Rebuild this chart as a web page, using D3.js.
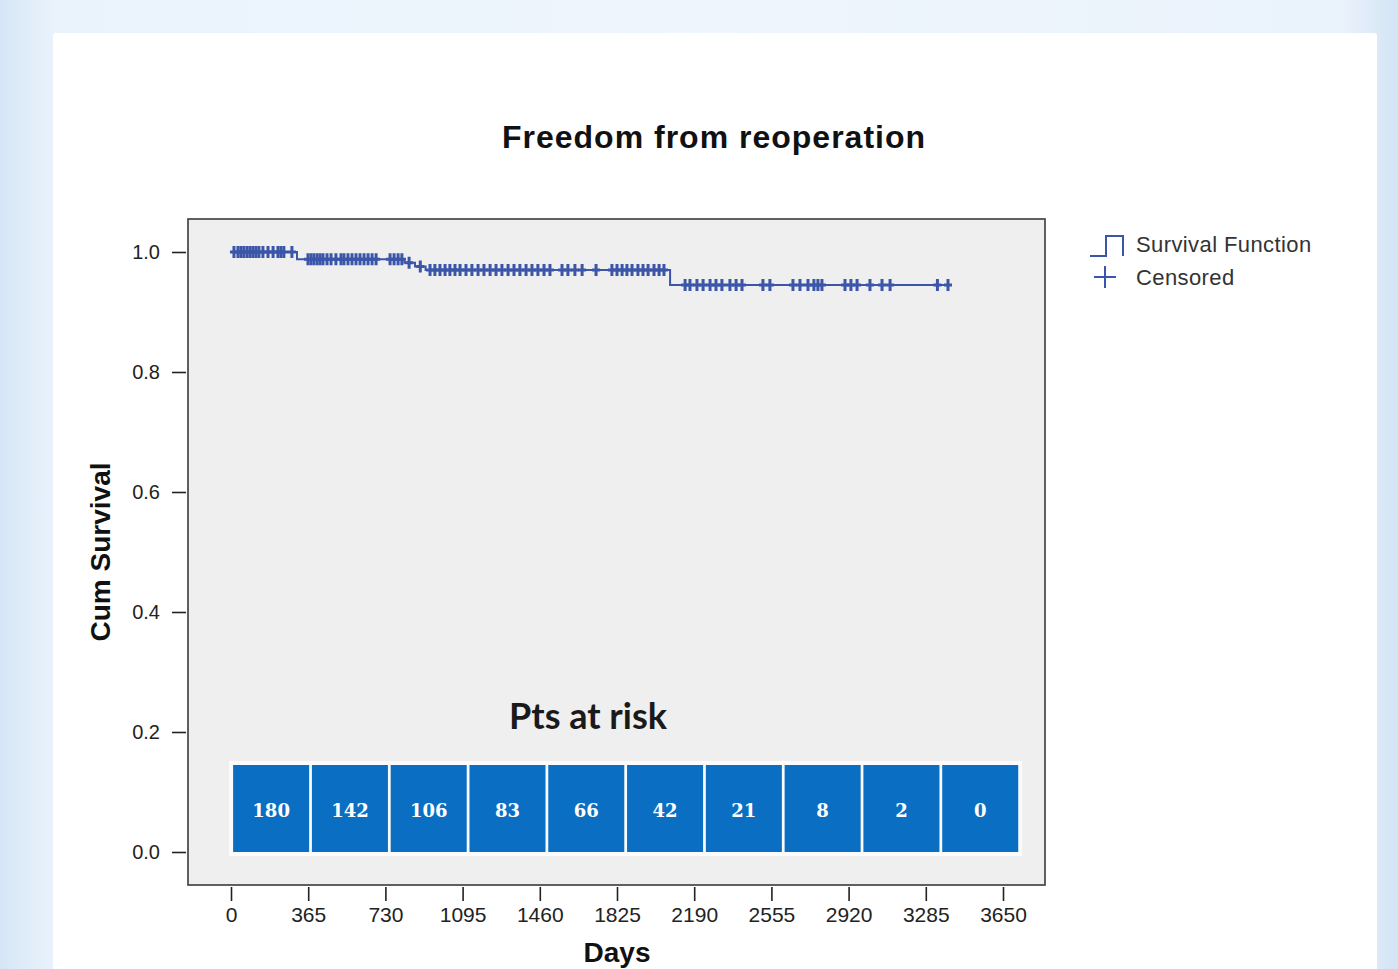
<!DOCTYPE html>
<html>
<head>
<meta charset="utf-8">
<script src="https://cdn.jsdelivr.net/npm/d3@7"></script>
<style>
  html, body { margin: 0; padding: 0; }
  body { width: 1398px; height: 969px; overflow: hidden;
    background: linear-gradient(90deg, #d6e6f6 0%, #eaf3fc 4%, #eef5fc 50%, #eaf2fb 96%, #d3e4f5 100%); }
  svg { display: block; }
</style>
</head>
<body>
<svg id="chart" width="1398" height="969"></svg>
<script>
// ---------------- data ----------------
const titleText = "Freedom from reoperation";
const xLabel = "Days";
const yLabel = "Cum Survival";
const xTicks = [0, 365, 730, 1095, 1460, 1825, 2190, 2555, 2920, 3285, 3650];
const yTicks = [0.0, 0.2, 0.4, 0.6, 0.8, 1.0];

// Kaplan-Meier step function (time of drop, survival after drop)
const stepTimes = [0, 312, 820, 870, 920, 2076];
const stepSurv  = [1.0, 0.988, 0.982, 0.976, 0.970, 0.945];
const lastTime = 3395;

// censored observation times (days)
const censoredTimes = [
  14, 33, 47, 61, 76, 90, 104, 118, 132, 151, 175, 199, 222, 236, 250, 288,
  364, 378, 392, 407, 421, 435, 454, 473, 496, 520, 534, 553, 572, 591, 610, 629, 648, 667, 686,
  752, 771, 790, 808, 842, 895,
  941, 964, 988, 1012, 1035, 1059, 1083, 1111, 1139, 1168, 1196, 1225, 1253, 1281, 1310, 1338,
  1366, 1395, 1423, 1451, 1480, 1508, 1565, 1593, 1626, 1660, 1726,
  1801, 1825, 1849, 1872, 1896, 1924, 1948, 1972, 2000, 2024, 2047,
  2147, 2170, 2203, 2232, 2265, 2293, 2321, 2359, 2388, 2416, 2515, 2548,
  2657, 2690, 2728, 2756, 2775, 2794, 2903, 2931, 2960, 3021, 3078, 3116, 3340, 3390
];

const riskTitle = "Pts at risk";
const atRisk = [180, 142, 106, 83, 66, 42, 21, 8, 2, 0];

const legendItems = ["Survival Function", "Censored"];

// ---------------- drawing ----------------
const svg = d3.select("#chart");
const lineColor = "#3b55a8";
const boxColor = "#0a6fc2";

// white panel
svg.append("rect").attr("x", 53).attr("y", 33).attr("width", 1324).attr("height", 960)
  .attr("fill", "#ffffff").attr("rx", 3);

const x = d3.scaleLinear().domain([0, 3650]).range([231, 1003]);
const y = d3.scaleLinear().domain([0, 1]).range([852, 252]);

// plot frame
const frame = { x0: 188, x1: 1045, y0: 219, y1: 885 };
svg.append("rect").attr("x", frame.x0).attr("y", frame.y0)
  .attr("width", frame.x1 - frame.x0).attr("height", frame.y1 - frame.y0)
  .attr("fill", "#efefef").attr("stroke", "#3a3a3a").attr("stroke-width", 1.6);

// title
svg.append("text").attr("x", 714).attr("y", 148).attr("text-anchor", "middle")
  .attr("font-family", "Liberation Sans, Arial, sans-serif").attr("font-weight", "bold")
  .attr("font-size", 32).attr("letter-spacing", 1).attr("fill", "#111").text(titleText);

// x axis
const xAxis = svg.append("g").attr("transform", `translate(0,${frame.y1 + 2})`)
  .call(d3.axisBottom(x).tickValues(xTicks).tickSize(14).tickSizeOuter(0).tickPadding(6).tickFormat(d3.format("d")));
xAxis.select(".domain").remove();
xAxis.selectAll("line").attr("stroke", "#222").attr("stroke-width", 1.6);
xAxis.selectAll("text").attr("font-family", "Liberation Sans, Arial, sans-serif")
  .attr("font-size", 21).attr("fill", "#222");

// y axis
const yAxis = svg.append("g").attr("transform", `translate(${frame.x0 - 2},0)`)
  .call(d3.axisLeft(y).tickValues(yTicks).tickSize(14).tickSizeOuter(0).tickPadding(12).tickFormat(d3.format(".1f")));
yAxis.select(".domain").remove();
yAxis.selectAll("line").attr("stroke", "#222").attr("stroke-width", 1.6);
yAxis.selectAll("text").attr("font-family", "Liberation Sans, Arial, sans-serif")
  .attr("font-size", 20).attr("fill", "#222");

// axis titles
svg.append("text").attr("x", 617).attr("y", 962).attr("text-anchor", "middle")
  .attr("font-family", "Liberation Sans, Arial, sans-serif").attr("font-weight", "bold")
  .attr("font-size", 28).attr("fill", "#111").text(xLabel);
svg.append("text").attr("transform", "translate(110,552) rotate(-90)").attr("text-anchor", "middle")
  .attr("font-family", "Liberation Sans, Arial, sans-serif").attr("font-weight", "bold")
  .attr("font-size", 28).attr("fill", "#111").text(yLabel);

// survival curve
const survAt = t => {
  let s = stepSurv[0];
  for (let i = 0; i < stepTimes.length; i++) if (t >= stepTimes[i]) s = stepSurv[i];
  return s;
};
const curvePts = stepTimes.map((t, i) => [t, stepSurv[i]]).concat([[lastTime, survAt(lastTime)]]);
svg.append("path").datum(curvePts)
  .attr("d", d3.line().x(d => x(d[0])).y(d => y(d[1])).curve(d3.curveStepAfter))
  .attr("fill", "none").attr("stroke", lineColor).attr("stroke-width", 2);

// censored marks
svg.append("g").selectAll("path").data(censoredTimes).join("path")
  .attr("transform", d => `translate(${x(d)},${y(survAt(d))})`)
  .attr("d", "M0,-6V6M-4,0H4")
  .attr("stroke", lineColor).attr("stroke-width", 3).attr("fill", "none");

// risk table
svg.append("text").attr("x", 588).attr("y", 729).attr("text-anchor", "middle")
  .attr("font-family", "Lato, Open Sans, sans-serif").attr("font-weight", "bold")
  .attr("font-size", 36).attr("fill", "#1a1a1a").text(riskTitle);

const band = d3.scaleBand().domain(d3.range(atRisk.length)).range([x(10), x(3722)]).paddingInner(0.035);
const tY0 = y(0.145), tY1 = y(0);
svg.append("rect").attr("x", band.range()[0] - 4).attr("y", tY0 - 4)
  .attr("width", band.range()[1] - band.range()[0] + 8).attr("height", tY1 - tY0 + 8)
  .attr("fill", "#fbfbfb");
const cells = svg.append("g").selectAll("g").data(atRisk).join("g");
cells.append("rect").attr("x", (d, i) => band(i)).attr("y", tY0)
  .attr("width", band.bandwidth()).attr("height", tY1 - tY0).attr("fill", boxColor);
cells.append("text").attr("x", (d, i) => band(i) + band.bandwidth() / 2).attr("y", (tY0 + tY1) / 2 + 8)
  .attr("text-anchor", "middle").attr("font-family", "DejaVu Serif, Liberation Serif, serif")
  .attr("font-weight", "bold").attr("font-size", 18).attr("fill", "#ffffff").text(d => d);

// legend
const lg = svg.append("g").attr("transform", "translate(1090,0)");
lg.append("path").attr("d", "M0,256H16V236H33V256").attr("fill", "none")
  .attr("stroke", lineColor).attr("stroke-width", 2);
lg.append("path").attr("d", "M15,266V288M4,277H26").attr("fill", "none")
  .attr("stroke", lineColor).attr("stroke-width", 2);
lg.selectAll("text").data(legendItems).join("text")
  .attr("x", 46).attr("y", (d, i) => 252 + i * 33)
  .attr("font-family", "Liberation Sans, Arial, sans-serif").attr("font-size", 22)
  .attr("letter-spacing", 0.4).attr("fill", "#333").text(d => d);
</script>
</body>
</html>
